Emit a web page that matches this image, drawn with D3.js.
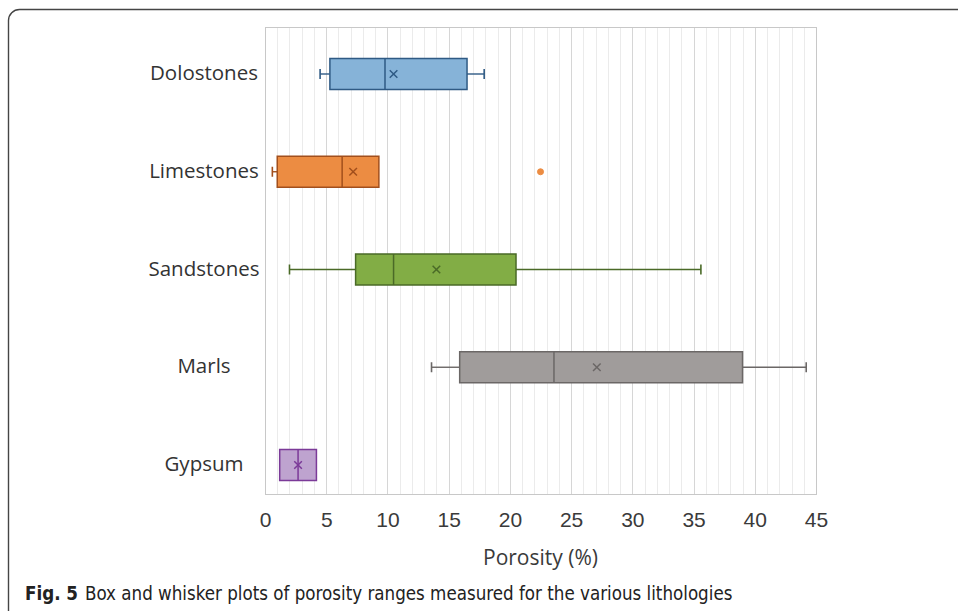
<!DOCTYPE html>
<html>
<head>
<meta charset="utf-8">
<script src="https://cdn.jsdelivr.net/npm/d3@7"></script>
<style>
  body { margin: 0; background: #fff; }
  svg { display: block; font-family: "Open Sans", "Noto Sans", sans-serif; }
  .tick-label { font-size: 21px; fill: #3a3a3a; }
  .cat-label { font-size: 20.5px; fill: #333; }
  .caption { font-family: "DejaVu Sans Condensed", "Liberation Sans Narrow", sans-serif; font-size: 18.6px; fill: #222; }
</style>
</head>
<body>
<div id="chart"></div>
<script>
// data (porosity, %)
var categories = ['Dolostones', 'Limestones', 'Sandstones', 'Marls', 'Gypsum'];
var whiskerMin = [4.5, 0.6, 2.0, 13.6, 1.2];
var q1 = [5.3, 1.0, 7.4, 15.9, 1.2];
var median = [9.8, 6.3, 10.5, 23.6, 2.7];
var q3 = [16.5, 9.3, 20.5, 39.0, 4.2];
var whiskerMax = [17.9, 9.3, 35.6, 44.2, 4.2];
var mean = [10.5, 7.2, 14.0, 27.1, 2.7];
var outliers = [[], [22.5], [], [], []];
var fills = ['#86b3d8', '#ec8c42', '#82ad45', '#a09c9b', '#bea3cf'];
var strokes = ['#2f5a84', '#a24f1c', '#4a6a27', '#6b6766', '#7b3a98'];
var xTicks = [0, 5, 10, 15, 20, 25, 30, 35, 40, 45];

var W = 958, H = 611;
var plot = {left: 265, top: 27, right: 816, bottom: 494};

var svg = d3.select('#chart').append('svg')
    .attr('width', W)
    .attr('height', H);

// figure frame (rounded corner, runs off page right/bottom)
svg.append('rect')
    .attr('x', 8.5).attr('y', 9.5)
    .attr('width', W + 20).attr('height', H + 20)
    .attr('rx', 11)
    .attr('fill', 'none')
    .attr('stroke', '#454545')
    .attr('stroke-width', 1.4);

var x = d3.scaleLinear().domain([0, 45]).range([plot.left, plot.right]);
var y = d3.scalePoint().domain(categories).range([74, 465]);

// gridlines: every 1 unit, darker at every 5
var grid = svg.append('g');
grid.selectAll('line')
    .data(d3.range(1, 45))
    .enter().append('line')
    .attr('x1', function (d) { return Math.round(x(d)) + 0.5; })
    .attr('x2', function (d) { return Math.round(x(d)) + 0.5; })
    .attr('y1', plot.top)
    .attr('y2', plot.bottom)
    .attr('stroke', function (d) { return d % 5 === 0 ? '#d6d6d6' : '#ebebeb'; })
    .attr('stroke-width', 1);

// plot area border
svg.append('rect')
    .attr('x', plot.left + 0.5).attr('y', plot.top + 0.5)
    .attr('width', plot.right - plot.left).attr('height', plot.bottom - plot.top)
    .attr('fill', 'none')
    .attr('stroke', '#c8c8c8');

// x axis labels
var xAxis = d3.axisBottom(x).tickValues(xTicks).tickSize(0).tickPadding(0);
var ax = svg.append('g')
    .attr('transform', 'translate(0,' + plot.bottom + ')')
    .call(xAxis);
ax.select('.domain').remove();
ax.selectAll('text')
    .attr('class', 'tick-label')
    .attr('y', 33)
    .attr('dy', null)
    .attr('font-family', null)
    .attr('font-size', null)
    .attr('fill', null);

svg.append('text')
    .attr('class', 'tick-label')
    .attr('x', (plot.left + plot.right) / 2)
    .attr('y', 565)
    .attr('text-anchor', 'middle')
    .text('Porosity (%)');

// category labels
svg.selectAll('.cat-label')
    .data(categories)
    .enter().append('text')
    .attr('class', 'cat-label')
    .attr('x', 204)
    .attr('y', function (d) { return y(d) + 6; })
    .attr('text-anchor', 'middle')
    .text(function (d) { return d; });

var boxH = 31, capH = 10;

var item = svg.selectAll('.item')
    .data(categories)
    .enter().append('g')
    .attr('class', 'item')
    .attr('transform', function (d) { return 'translate(0,' + y(d) + ')'; });

// whiskers
item.append('line')
    .attr('x1', function (d, i) { return x(whiskerMin[i]); })
    .attr('x2', function (d, i) { return x(q1[i]); })
    .attr('stroke', function (d, i) { return strokes[i]; })
    .attr('stroke-width', 1.4);
item.append('line')
    .attr('x1', function (d, i) { return x(q3[i]); })
    .attr('x2', function (d, i) { return x(whiskerMax[i]); })
    .attr('stroke', function (d, i) { return strokes[i]; })
    .attr('stroke-width', 1.4);
// caps
item.filter(function (d, i) { return whiskerMin[i] < q1[i]; })
    .append('line')
    .attr('x1', function (d) { return x(whiskerMin[categories.indexOf(d)]); })
    .attr('x2', function (d) { return x(whiskerMin[categories.indexOf(d)]); })
    .attr('y1', -capH / 2).attr('y2', capH / 2)
    .attr('stroke', function (d) { return strokes[categories.indexOf(d)]; })
    .attr('stroke-width', 1.6);
item.filter(function (d, i) { return whiskerMax[i] > q3[i]; })
    .append('line')
    .attr('x1', function (d) { return x(whiskerMax[categories.indexOf(d)]); })
    .attr('x2', function (d) { return x(whiskerMax[categories.indexOf(d)]); })
    .attr('y1', -capH / 2).attr('y2', capH / 2)
    .attr('stroke', function (d) { return strokes[categories.indexOf(d)]; })
    .attr('stroke-width', 1.6);

// box
item.append('rect')
    .attr('x', function (d, i) { return x(q1[i]); })
    .attr('y', -boxH / 2)
    .attr('width', function (d, i) { return x(q3[i]) - x(q1[i]); })
    .attr('height', boxH)
    .attr('fill', function (d, i) { return fills[i]; })
    .attr('stroke', function (d, i) { return strokes[i]; })
    .attr('stroke-width', 1.5);

// median
item.append('line')
    .attr('x1', function (d, i) { return x(median[i]); })
    .attr('x2', function (d, i) { return x(median[i]); })
    .attr('y1', -boxH / 2).attr('y2', boxH / 2)
    .attr('stroke', function (d, i) { return strokes[i]; })
    .attr('stroke-width', 1.5);

// mean marker (x)
var m = 3.8;
item.append('path')
    .attr('d', function (d, i) {
        var cx = x(mean[i]);
        return 'M' + (cx - m) + ',' + (-m) + 'L' + (cx + m) + ',' + m +
               'M' + (cx - m) + ',' + m + 'L' + (cx + m) + ',' + (-m);
    })
    .attr('stroke', function (d, i) { return strokes[i]; })
    .attr('stroke-width', 1.5)
    .attr('fill', 'none');

// outliers
item.each(function (d, i) {
    d3.select(this).selectAll('circle')
        .data(outliers[i])
        .enter().append('circle')
        .attr('cx', function (v) { return x(v); })
        .attr('cy', 0)
        .attr('r', 3)
        .attr('fill', fills[i])
        .attr('stroke', fills[i]);
});

// caption
var cap = svg.append('text')
    .attr('class', 'caption')
    .attr('x', 25)
    .attr('y', 600);
cap.append('tspan').attr('font-weight', 'bold').text('Fig. 5');
cap.append('tspan').attr('dx', 7).text('Box and whisker plots of porosity ranges measured for the various lithologies');
</script>
</body>
</html>
